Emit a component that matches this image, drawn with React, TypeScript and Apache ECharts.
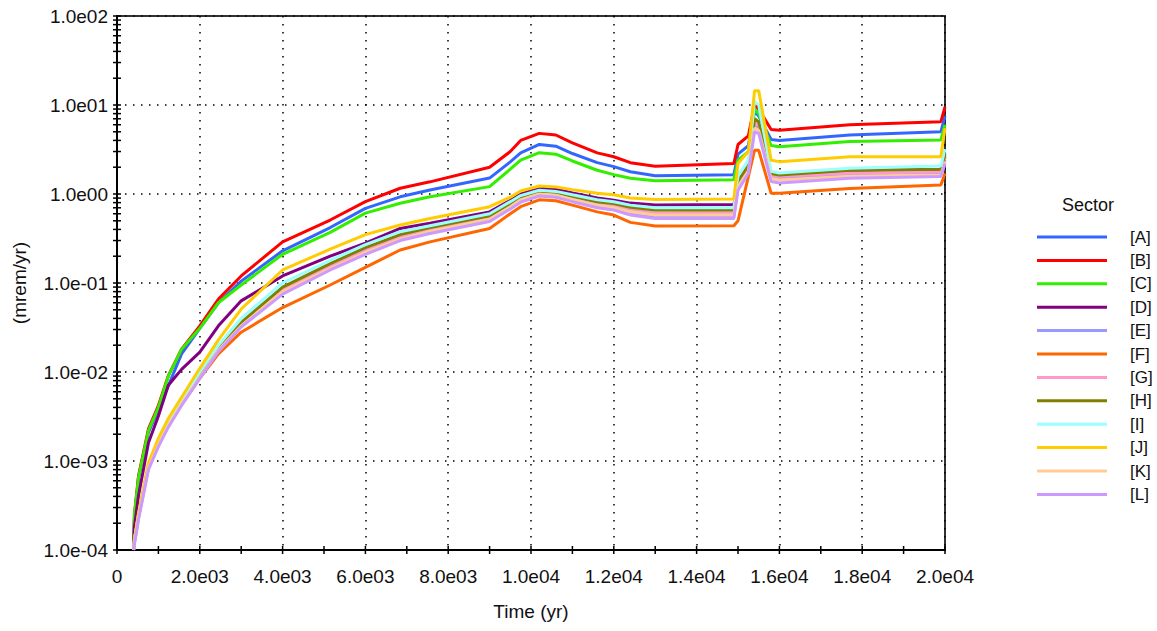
import React, { useEffect, useRef } from "react";
import * as echarts from "echarts";

const times = [400, 420, 520, 760, 1000, 1240, 1560, 2000, 2450, 3000, 4000, 5150, 6000, 6840, 7560, 9000, 9500, 9750, 10200, 10600, 11000, 11600, 12000, 12400, 13000, 14900, 15000, 15250, 15400, 15500, 15800, 16000, 17700, 19900, 20000];

const sectorA = [1e-4, 2.2e-4, 6.5e-4, 2.1e-3, 3.8e-3, 7e-3, 1.6e-2, 3.1e-2, 6e-2, 0.105, 0.23, 0.42, 0.69, 0.93, 1.11, 1.51, 2.3, 2.9, 3.6, 3.45, 2.85, 2.25, 2.03, 1.78, 1.6, 1.65, 2.8, 3.5, 8.5, 7.5, 4.1, 4.0, 4.6, 5.0, 7.5];
const sectorB = [1e-4, 2.5e-4, 6.8e-4, 2.3e-3, 4.2e-3, 9.1e-3, 1.8e-2, 3.3e-2, 6.6e-2, 0.12, 0.29, 0.51, 0.82, 1.16, 1.37, 2.0, 3.0, 4.0, 4.8, 4.6, 3.75, 2.9, 2.62, 2.25, 2.05, 2.2, 3.6, 4.5, 10, 9, 5.3, 5.2, 6.0, 6.5, 9.5];
const sectorC = [1e-4, 2.5e-4, 6.5e-4, 2.2e-3, 4e-3, 9e-3, 1.8e-2, 3.1e-2, 6e-2, 0.095, 0.21, 0.37, 0.61, 0.786, 0.93, 1.21, 1.9, 2.4, 2.91, 2.8, 2.35, 1.85, 1.65, 1.5, 1.41, 1.45, 2.4, 3.0, 9, 8, 3.5, 3.4, 3.9, 4.05, 6];
const sectorD = [1e-4, 1.8e-4, 4.1e-4, 1.6e-3, 3.2e-3, 7.1e-3, 1.07e-2, 1.67e-2, 3.3e-2, 0.063, 0.12, 0.2, 0.28, 0.41, 0.47, 0.63, 0.85, 1.0, 1.16, 1.13, 1.03, 0.9, 0.85, 0.79, 0.75, 0.76, 1.3, 1.8, 7, 6, 1.7, 1.63, 1.8, 1.9, 2.6];
const sectorE = [1e-4, 1.2e-4, 2.3e-4, 8.5e-4, 1.5e-3, 2.5e-3, 4.4e-3, 8.8e-3, 1.75e-2, 0.033, 0.08, 0.145, 0.22, 0.31, 0.38, 0.51, 0.7, 0.84, 0.98, 0.95, 0.85, 0.73, 0.68, 0.61, 0.56, 0.56, 1.2, 1.9, 5.8, 5.5, 1.55, 1.51, 1.62, 1.67, 2.4];
const sectorF = [1e-4, 1.3e-4, 2.4e-4, 8.5e-4, 1.5e-3, 2.6e-3, 4.3e-3, 8.5e-3, 1.6e-2, 0.028, 0.053, 0.095, 0.15, 0.235, 0.29, 0.41, 0.6, 0.72, 0.86, 0.84, 0.75, 0.63, 0.58, 0.48, 0.437, 0.44, 0.5, 1.57, 3.1, 3.1, 1.02, 1.02, 1.15, 1.26, 1.7];
const sectorG = [1e-4, 1.3e-4, 2.4e-4, 8.7e-4, 1.55e-3, 2.6e-3, 4.5e-3, 9e-3, 1.8e-2, 0.034, 0.085, 0.155, 0.235, 0.33, 0.4, 0.54, 0.74, 0.88, 1.02, 0.99, 0.9, 0.78, 0.74, 0.67, 0.61, 0.62, 1.3, 2.0, 6.5, 6, 1.6, 1.57, 1.72, 1.78, 2.6];
const sectorH = [1e-4, 1.3e-4, 2.5e-4, 8.9e-4, 1.6e-3, 2.7e-3, 4.6e-3, 9.3e-3, 1.9e-2, 0.036, 0.09, 0.165, 0.25, 0.35, 0.42, 0.57, 0.78, 0.93, 1.07, 1.04, 0.94, 0.82, 0.78, 0.71, 0.66, 0.66, 1.4, 2.1, 7, 6.5, 1.7, 1.63, 1.85, 1.9, 2.8];
const sectorI = [1e-4, 1.3e-4, 2.5e-4, 9e-4, 1.6e-3, 2.8e-3, 4.8e-3, 1e-2, 2e-2, 0.04, 0.1, 0.18, 0.27, 0.377, 0.44, 0.6, 0.82, 0.96, 1.1, 1.07, 0.98, 0.86, 0.82, 0.75, 0.7, 0.7, 1.6, 2.4, 11, 10, 1.8, 1.72, 1.95, 2.06, 3.2];
const sectorJ = [1e-4, 1.3e-4, 2.6e-4, 9.5e-4, 1.8e-3, 3e-3, 5.2e-3, 1.1e-2, 2.3e-2, 0.051, 0.14, 0.24, 0.35, 0.449, 0.53, 0.72, 0.92, 1.08, 1.23, 1.2, 1.12, 1.02, 0.98, 0.9, 0.87, 0.88, 2.2, 3.0, 14.5, 14.5, 2.4, 2.31, 2.62, 2.62, 5.5];
const sectorK = [1e-4, 1.2e-4, 2.3e-4, 8.4e-4, 1.5e-3, 2.5e-3, 4.4e-3, 8.7e-3, 1.75e-2, 0.033, 0.08, 0.145, 0.22, 0.31, 0.38, 0.52, 0.72, 0.86, 1.0, 0.97, 0.87, 0.75, 0.7, 0.63, 0.58, 0.58, 1.2, 1.8, 5.5, 5.2, 1.48, 1.44, 1.58, 1.63, 2.3];
const sectorL = [1e-4, 1.15e-4, 2.2e-4, 8e-4, 1.45e-3, 2.4e-3, 4.2e-3, 8.5e-3, 1.7e-2, 0.032, 0.075, 0.14, 0.21, 0.3, 0.36, 0.49, 0.68, 0.81, 0.95, 0.92, 0.82, 0.7, 0.66, 0.58, 0.53, 0.53, 1.1, 1.7, 5.0, 4.8, 1.38, 1.33, 1.5, 1.57, 2.2];

const seriesNames = ["[A]", "[B]", "[C]", "[D]", "[E]", "[F]", "[G]", "[H]", "[I]", "[J]", "[K]", "[L]"];
const seriesValues = [sectorA, sectorB, sectorC, sectorD, sectorE, sectorF, sectorG, sectorH, sectorI, sectorJ, sectorK, sectorL];
const seriesColors = ["#3366ff", "#ff0000", "#33ee00", "#800080", "#9999ff", "#ff6600", "#ff99cc", "#808000", "#99ffff", "#ffcc00", "#ffcc99", "#cc99ff"];

const xTickValues = [0, 1000, 2000, 3000, 4000, 5000, 6000, 7000, 8000, 9000, 10000, 11000, 12000, 13000, 14000, 15000, 16000, 17000, 18000, 19000, 20000];
const yDecades = [-4, -3, -2, -1, 0, 1];
const yMinorMultipliers = [1, 2, 3, 4, 5, 6, 7, 8, 9];

const FONT = "Liberation Sans, Arial, sans-serif";

function sci(v: number): string {
  if (v === 0) return "0";
  const e = Math.floor(Math.log10(Math.abs(v)) + 1e-9);
  const m = v / Math.pow(10, e);
  const sign = e < 0 ? "-" : "";
  const ea = Math.abs(e);
  return m.toFixed(1) + "e" + sign + (ea < 10 ? "0" + ea : String(ea));
}

export default function App() {
  const ref = useRef<HTMLDivElement>(null);
  useEffect(() => {
    if (!ref.current) return;
    const chart = echarts.init(ref.current, null, { renderer: "svg" });

    const tickData: number[][] = [];
    xTickValues.forEach((x) => tickData.push([x, 1e-4, 0]));
    yDecades.forEach((d) => yMinorMultipliers.forEach((k) => tickData.push([0, k * Math.pow(10, d), 1])));
    tickData.push([0, 100, 1]);

    const lineSeries = seriesNames.map((name, i) => ({
      name,
      type: "line",
      data: times.map((t, j) => [t, seriesValues[i][j]]),
      showSymbol: false,
      symbol: "none",
      lineStyle: { width: 3, color: seriesColors[i] },
      itemStyle: { color: seriesColors[i] },
      emphasis: { disabled: true },
    }));

    chart.setOption({
      animation: false,
      backgroundColor: "#ffffff",
      title: {
        text: "Sector",
        left: 1062,
        top: 196,
        padding: 0,
        textStyle: { fontFamily: FONT, fontSize: 18, fontWeight: "normal", color: "#111" },
      },
      legend: {
        orient: "vertical",
        left: 1037,
        top: 227,
        padding: 0,
        data: seriesNames,
        icon: "rect",
        itemWidth: 70,
        itemHeight: 3,
        itemGap: 3.4,
        selectedMode: false,
        textStyle: { fontFamily: FONT, fontSize: 17, color: "#111", lineHeight: 20, padding: [0, 0, 0, 18] },
      },
      grid: {
        left: 117,
        right: 212,
        top: 16,
        bottom: 81,
        show: true,
        borderColor: "#333",
        borderWidth: 2,
        containLabel: false,
      },
      xAxis: {
        type: "value",
        min: 0,
        max: 20000,
        interval: 2000,
        name: "Time (yr)",
        nameLocation: "middle",
        nameGap: 52,
        nameTextStyle: { fontFamily: FONT, fontSize: 19, color: "#111" },
        axisLine: { show: true, lineStyle: { color: "#000", width: 2 } },
        axisTick: { show: false },
        axisLabel: { fontFamily: FONT, fontSize: 19, color: "#111", margin: 17, formatter: (v: number) => sci(v) },
        splitLine: { show: true, lineStyle: { color: "#000", width: 1.5, type: [1.5, 6.5] } },
      },
      yAxis: {
        type: "log",
        logBase: 10,
        min: 1e-4,
        max: 100,
        name: "(mrem/yr)",
        nameLocation: "middle",
        nameRotate: 90,
        nameGap: 88,
        nameTextStyle: { fontFamily: FONT, fontSize: 19, color: "#111" },
        axisLine: { show: true, lineStyle: { color: "#000", width: 2 } },
        axisTick: { show: false },
        axisLabel: { fontFamily: FONT, fontSize: 19, color: "#111", margin: 9, formatter: (v: number) => sci(v) },
        splitLine: { show: true, lineStyle: { color: "#000", width: 1.5, type: [1.5, 6.5] } },
      },
      series: [
        ...lineSeries,
        {
          name: "ticks",
          type: "custom",
          clip: false,
          silent: true,
          data: tickData,
          z: 10,
          renderItem: (params: any, api: any) => {
            const p = api.coord([api.value(0), api.value(1)]);
            const dir = api.value(2);
            const len = 4;
            const shape = dir === 0
              ? { x1: p[0], y1: p[1] - len, x2: p[0], y2: p[1] + len }
              : { x1: p[0] - len, y1: p[1], x2: p[0] + len, y2: p[1] };
            return { type: "line", shape, style: { stroke: "#000", lineWidth: 1.5 } };
          },
        },
      ],
    });
    return () => chart.dispose();
  }, []);
  return <div ref={ref} style={{ position: "fixed", left: 0, top: 0, width: 1157, height: 631 }} />;
}
